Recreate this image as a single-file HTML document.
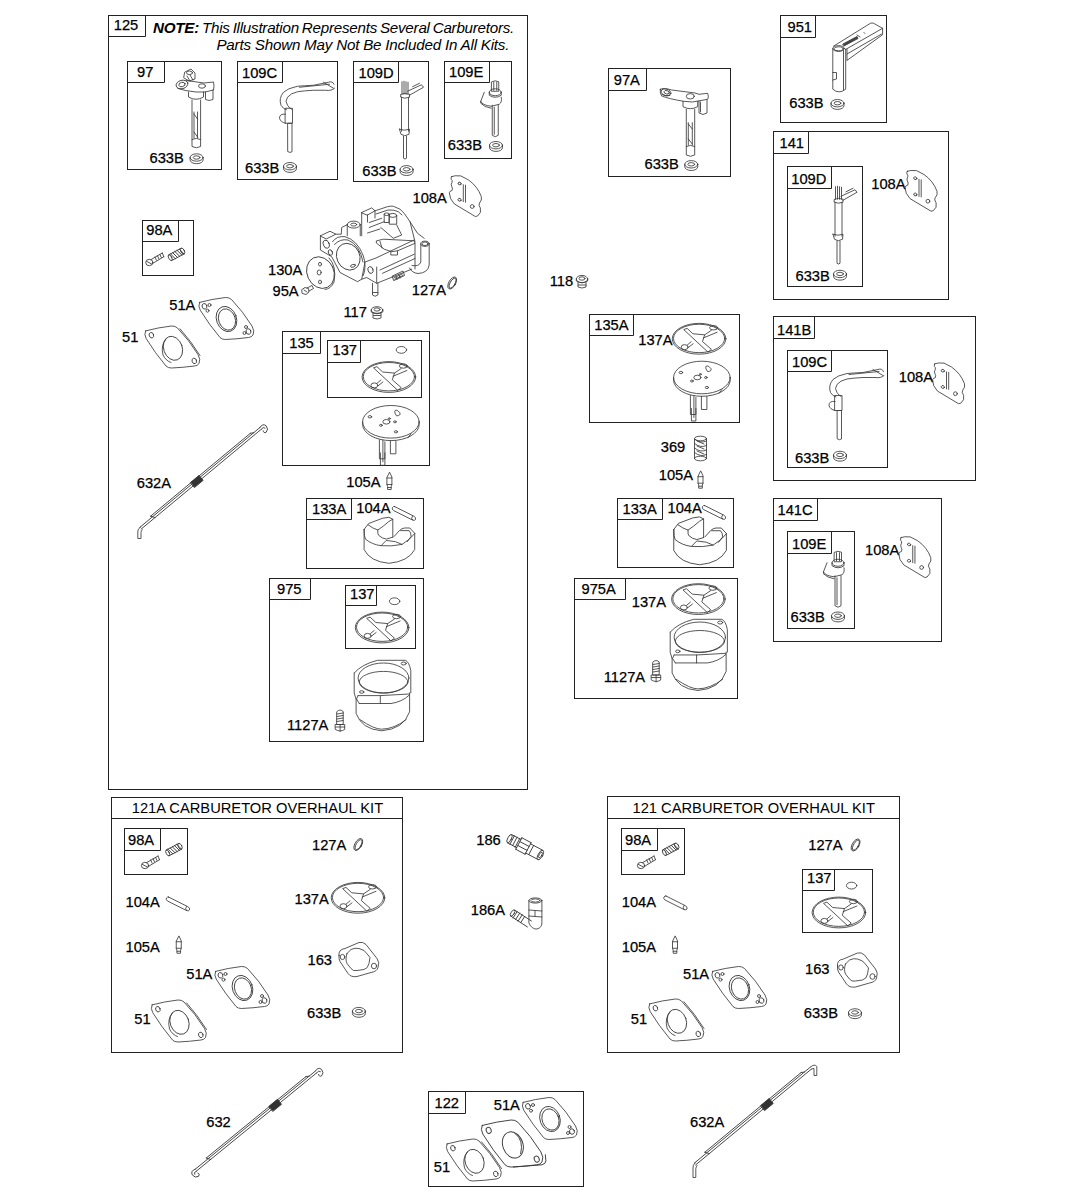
<!DOCTYPE html>
<html><head><meta charset="utf-8"><style>
html,body{margin:0;padding:0;background:#fff;}
svg{display:block;}
text{font-family:"Liberation Sans",sans-serif;fill:#000;stroke:#000;stroke-width:0.25px;}
</style></head><body>
<svg width="1073" height="1200" viewBox="0 0 1073 1200">
<rect x="108.50" y="15.50" width="419.00" height="774.00" fill="none" stroke="#222" stroke-width="1.0"/>
<path d="M145.50,15.50V36.50H108.50" fill="none" stroke="#222" stroke-width="1"/>
<text x="113.75" y="29.90" font-size="14.7" >125</text>
<rect x="127.50" y="61.50" width="94.00" height="108.00" fill="none" stroke="#222" stroke-width="1.0"/>
<path d="M164.50,61.50V82.50H127.50" fill="none" stroke="#222" stroke-width="1"/>
<text x="137.00" y="77.40" font-size="14.7" >97</text>
<rect x="237.50" y="61.50" width="100.00" height="118.00" fill="none" stroke="#222" stroke-width="1.0"/>
<path d="M282.50,61.50V82.50H237.50" fill="none" stroke="#222" stroke-width="1"/>
<text x="242.00" y="78.40" font-size="14.7" >109C</text>
<rect x="353.50" y="61.50" width="75.00" height="120.00" fill="none" stroke="#222" stroke-width="1.0"/>
<path d="M398.50,61.50V82.50H353.50" fill="none" stroke="#222" stroke-width="1"/>
<text x="358.50" y="78.40" font-size="14.7" >109D</text>
<rect x="444.50" y="61.50" width="67.00" height="97.00" fill="none" stroke="#222" stroke-width="1.0"/>
<path d="M489.50,61.50V82.50H444.50" fill="none" stroke="#222" stroke-width="1"/>
<text x="449.00" y="76.90" font-size="14.7" >109E</text>
<rect x="142.50" y="220.50" width="51.00" height="55.00" fill="none" stroke="#222" stroke-width="1.0"/>
<path d="M178.50,220.50V241.50H142.50" fill="none" stroke="#222" stroke-width="1"/>
<text x="146.25" y="235.40" font-size="14.7" >98A</text>
<rect x="282.50" y="331.50" width="147.00" height="134.00" fill="none" stroke="#222" stroke-width="1.0"/>
<path d="M320.50,331.50V353.50H282.50" fill="none" stroke="#222" stroke-width="1"/>
<text x="289.25" y="348.40" font-size="14.7" >135</text>
<rect x="327.50" y="340.50" width="94.00" height="57.00" fill="none" stroke="#222" stroke-width="1.0"/>
<path d="M360.50,340.50V362.50H327.50" fill="none" stroke="#222" stroke-width="1"/>
<text x="332.50" y="355.40" font-size="14.7" >137</text>
<rect x="306.50" y="498.50" width="117.00" height="70.00" fill="none" stroke="#222" stroke-width="1.0"/>
<path d="M351.50,498.50V519.50H306.50" fill="none" stroke="#222" stroke-width="1"/>
<text x="312.00" y="514.15" font-size="14.7" >133A</text>
<rect x="269.50" y="578.50" width="154.00" height="163.00" fill="none" stroke="#222" stroke-width="1.0"/>
<path d="M310.50,578.50V599.50H269.50" fill="none" stroke="#222" stroke-width="1"/>
<text x="277.00" y="594.15" font-size="14.7" >975</text>
<rect x="345.50" y="585.50" width="70.00" height="63.00" fill="none" stroke="#222" stroke-width="1.0"/>
<path d="M376.50,585.50V605.50H345.50" fill="none" stroke="#222" stroke-width="1"/>
<text x="350.00" y="599.15" font-size="14.7" >137</text>
<rect x="608.50" y="68.50" width="122.00" height="108.00" fill="none" stroke="#222" stroke-width="1.0"/>
<path d="M646.50,68.50V90.50H608.50" fill="none" stroke="#222" stroke-width="1"/>
<text x="613.75" y="84.90" font-size="14.7" >97A</text>
<rect x="780.50" y="15.50" width="106.00" height="107.00" fill="none" stroke="#222" stroke-width="1.0"/>
<path d="M815.50,15.50V37.50H780.50" fill="none" stroke="#222" stroke-width="1"/>
<text x="787.50" y="32.40" font-size="14.7" >951</text>
<rect x="773.50" y="131.50" width="175.00" height="168.00" fill="none" stroke="#222" stroke-width="1.0"/>
<path d="M808.50,131.50V153.50H773.50" fill="none" stroke="#222" stroke-width="1"/>
<text x="779.50" y="147.90" font-size="14.7" >141</text>
<rect x="787.50" y="166.50" width="75.00" height="120.00" fill="none" stroke="#222" stroke-width="1.0"/>
<path d="M831.50,166.50V188.50H787.50" fill="none" stroke="#222" stroke-width="1"/>
<text x="791.25" y="183.65" font-size="14.7" >109D</text>
<rect x="589.50" y="314.50" width="150.00" height="108.00" fill="none" stroke="#222" stroke-width="1.0"/>
<path d="M633.50,314.50V335.50H589.50" fill="none" stroke="#222" stroke-width="1"/>
<text x="594.25" y="330.40" font-size="14.7" >135A</text>
<rect x="617.50" y="498.50" width="116.00" height="69.00" fill="none" stroke="#222" stroke-width="1.0"/>
<path d="M662.50,498.50V519.50H617.50" fill="none" stroke="#222" stroke-width="1"/>
<text x="622.50" y="514.15" font-size="14.7" >133A</text>
<rect x="574.50" y="578.50" width="163.00" height="120.00" fill="none" stroke="#222" stroke-width="1.0"/>
<path d="M625.50,578.50V599.50H574.50" fill="none" stroke="#222" stroke-width="1"/>
<text x="581.50" y="594.15" font-size="14.7" >975A</text>
<rect x="773.50" y="316.50" width="202.00" height="164.00" fill="none" stroke="#222" stroke-width="1.0"/>
<path d="M814.50,316.50V338.50H773.50" fill="none" stroke="#222" stroke-width="1"/>
<text x="777.00" y="334.65" font-size="14.7" >141B</text>
<rect x="787.50" y="350.50" width="100.00" height="117.00" fill="none" stroke="#222" stroke-width="1.0"/>
<path d="M831.50,350.50V371.50H787.50" fill="none" stroke="#222" stroke-width="1"/>
<text x="792.00" y="367.40" font-size="14.7" >109C</text>
<rect x="773.50" y="498.50" width="168.00" height="143.00" fill="none" stroke="#222" stroke-width="1.0"/>
<path d="M817.50,498.50V520.50H773.50" fill="none" stroke="#222" stroke-width="1"/>
<text x="777.50" y="515.40" font-size="14.7" >141C</text>
<rect x="787.50" y="531.50" width="67.00" height="97.00" fill="none" stroke="#222" stroke-width="1.0"/>
<path d="M831.50,531.50V553.50H787.50" fill="none" stroke="#222" stroke-width="1"/>
<text x="792.00" y="548.65" font-size="14.7" >109E</text>
<rect x="124.50" y="828.50" width="63.00" height="46.00" fill="none" stroke="#222" stroke-width="1.0"/>
<path d="M160.50,828.50V850.50H124.50" fill="none" stroke="#222" stroke-width="1"/>
<text x="128.00" y="844.90" font-size="14.7" >98A</text>
<rect x="621.50" y="828.50" width="63.00" height="46.00" fill="none" stroke="#222" stroke-width="1.0"/>
<path d="M657.50,828.50V850.50H621.50" fill="none" stroke="#222" stroke-width="1"/>
<text x="625.00" y="844.90" font-size="14.7" >98A</text>
<rect x="802.50" y="869.50" width="70.00" height="63.00" fill="none" stroke="#222" stroke-width="1.0"/>
<path d="M834.50,869.50V890.50H802.50" fill="none" stroke="#222" stroke-width="1"/>
<text x="807.00" y="883.40" font-size="14.7" >137</text>
<rect x="428.50" y="1091.50" width="155.00" height="95.00" fill="none" stroke="#222" stroke-width="1.0"/>
<path d="M465.50,1091.50V1113.50H428.50" fill="none" stroke="#222" stroke-width="1"/>
<text x="434.50" y="1107.90" font-size="14.7" >122</text>
<rect x="111.50" y="797.50" width="291.00" height="255.00" fill="none" stroke="#222" stroke-width="1.0"/>
<line x1="111.50" y1="818.50" x2="402.50" y2="818.50" stroke="#222" stroke-width="1.0"/>
<text x="131.75" y="812.50" font-size="14.7" style="stroke-width:0">121A CARBURETOR OVERHAUL KIT</text>
<rect x="607.50" y="796.50" width="292.00" height="256.00" fill="none" stroke="#222" stroke-width="1.0"/>
<line x1="607.50" y1="818.50" x2="899.50" y2="818.50" stroke="#222" stroke-width="1.0"/>
<text x="632.50" y="812.50" font-size="14.7" style="stroke-width:0">121 CARBURETOR OVERHAUL KIT</text>
<text x="153" y="33" font-size="15.2" font-style="italic" letter-spacing="-0.25" word-spacing="-1" style="stroke-width:0"><tspan font-weight="bold">NOTE:</tspan> This Illustration Represents Several Carburetors.</text>
<text x="509.25" y="50.25" font-size="15.2" font-style="italic" text-anchor="end" letter-spacing="-0.22" style="stroke-width:0">Parts Shown May Not Be Included In All Kits.</text>
<text x="149.50" y="162.90" font-size="14.7" >633B</text>
<text x="245.00" y="172.90" font-size="14.7" >633B</text>
<text x="362.25" y="176.15" font-size="14.7" >633B</text>
<text x="447.75" y="150.40" font-size="14.7" >633B</text>
<text x="412.50" y="202.90" font-size="14.7" >108A</text>
<text x="268.00" y="275.40" font-size="14.7" >130A</text>
<text x="272.50" y="296.15" font-size="14.7" >95A</text>
<text x="411.75" y="294.90" font-size="14.7" >127A</text>
<text x="343.50" y="317.40" font-size="14.7" >117</text>
<text x="169.25" y="309.65" font-size="14.7" >51A</text>
<text x="122.00" y="342.15" font-size="14.7" >51</text>
<text x="136.75" y="487.90" font-size="14.7" >632A</text>
<text x="346.25" y="487.40" font-size="14.7" >105A</text>
<text x="356.25" y="512.90" font-size="14.7" >104A</text>
<text x="287.00" y="729.90" font-size="14.7" >1127A</text>
<text x="549.75" y="286.15" font-size="14.7" >118</text>
<text x="644.50" y="169.15" font-size="14.7" >633B</text>
<text x="789.25" y="108.40" font-size="14.7" >633B</text>
<text x="871.25" y="189.15" font-size="14.7" >108A</text>
<text x="795.50" y="280.90" font-size="14.7" >633B</text>
<text x="638.25" y="344.90" font-size="14.7" >137A</text>
<text x="660.75" y="451.65" font-size="14.7" >369</text>
<text x="658.75" y="480.40" font-size="14.7" >105A</text>
<text x="667.50" y="512.90" font-size="14.7" >104A</text>
<text x="631.75" y="607.15" font-size="14.7" >137A</text>
<text x="603.75" y="681.65" font-size="14.7" >1127A</text>
<text x="898.75" y="381.65" font-size="14.7" >108A</text>
<text x="795.00" y="462.90" font-size="14.7" >633B</text>
<text x="865.00" y="554.90" font-size="14.7" >108A</text>
<text x="790.50" y="621.65" font-size="14.7" >633B</text>
<text x="312.00" y="849.65" font-size="14.7" >127A</text>
<text x="125.50" y="906.65" font-size="14.7" >104A</text>
<text x="294.50" y="904.15" font-size="14.7" >137A</text>
<text x="125.50" y="952.15" font-size="14.7" >105A</text>
<text x="307.50" y="964.90" font-size="14.7" >163</text>
<text x="186.25" y="979.15" font-size="14.7" >51A</text>
<text x="134.25" y="1024.15" font-size="14.7" >51</text>
<text x="307.00" y="1017.90" font-size="14.7" >633B</text>
<text x="476.25" y="844.90" font-size="14.7" >186</text>
<text x="470.75" y="914.90" font-size="14.7" >186A</text>
<text x="808.25" y="849.65" font-size="14.7" >127A</text>
<text x="621.75" y="906.65" font-size="14.7" >104A</text>
<text x="621.75" y="952.15" font-size="14.7" >105A</text>
<text x="683.00" y="979.15" font-size="14.7" >51A</text>
<text x="630.75" y="1024.15" font-size="14.7" >51</text>
<text x="805.00" y="974.15" font-size="14.7" >163</text>
<text x="803.75" y="1018.40" font-size="14.7" >633B</text>
<text x="206.25" y="1126.65" font-size="14.7" >632</text>
<text x="493.75" y="1109.90" font-size="14.7" >51A</text>
<text x="433.75" y="1171.65" font-size="14.7" >51</text>
<text x="690.00" y="1126.65" font-size="14.7" >632A</text>
<g fill="none" stroke="#3a3a3a" stroke-width="0.85" stroke-linejoin="round" stroke-linecap="round">
<g transform="translate(196.60,158.80)" ><ellipse cx="0" cy="-1.3" rx="6.5" ry="3.7"/><path d="M-6.5,-1.3V1.2A6.5,3.7 0 0 0 6.5,1.2V-1.3"/><ellipse cx="0" cy="-1.3" rx="3.4" ry="1.7"/></g>
<g transform="translate(290.00,167.50)" ><ellipse cx="0" cy="-1.3" rx="6.5" ry="3.7"/><path d="M-6.5,-1.3V1.2A6.5,3.7 0 0 0 6.5,1.2V-1.3"/><ellipse cx="0" cy="-1.3" rx="3.4" ry="1.7"/></g>
<g transform="translate(406.60,170.60)" ><ellipse cx="0" cy="-1.3" rx="6.5" ry="3.7"/><path d="M-6.5,-1.3V1.2A6.5,3.7 0 0 0 6.5,1.2V-1.3"/><ellipse cx="0" cy="-1.3" rx="3.4" ry="1.7"/></g>
<g transform="translate(496.00,146.50)" ><ellipse cx="0" cy="-1.3" rx="6.5" ry="3.7"/><path d="M-6.5,-1.3V1.2A6.5,3.7 0 0 0 6.5,1.2V-1.3"/><ellipse cx="0" cy="-1.3" rx="3.4" ry="1.7"/></g>
<g transform="translate(691.25,165.60)" ><ellipse cx="0" cy="-1.3" rx="6.5" ry="3.7"/><path d="M-6.5,-1.3V1.2A6.5,3.7 0 0 0 6.5,1.2V-1.3"/><ellipse cx="0" cy="-1.3" rx="3.4" ry="1.7"/></g>
<g transform="translate(837.50,104.50)" ><ellipse cx="0" cy="-1.3" rx="6.5" ry="3.7"/><path d="M-6.5,-1.3V1.2A6.5,3.7 0 0 0 6.5,1.2V-1.3"/><ellipse cx="0" cy="-1.3" rx="3.4" ry="1.7"/></g>
<g transform="translate(840.00,275.25)" ><ellipse cx="0" cy="-1.3" rx="6.5" ry="3.7"/><path d="M-6.5,-1.3V1.2A6.5,3.7 0 0 0 6.5,1.2V-1.3"/><ellipse cx="0" cy="-1.3" rx="3.4" ry="1.7"/></g>
<g transform="translate(840.00,456.25)" ><ellipse cx="0" cy="-1.3" rx="6.5" ry="3.7"/><path d="M-6.5,-1.3V1.2A6.5,3.7 0 0 0 6.5,1.2V-1.3"/><ellipse cx="0" cy="-1.3" rx="3.4" ry="1.7"/></g>
<g transform="translate(838.00,617.00)" ><ellipse cx="0" cy="-1.3" rx="6.5" ry="3.7"/><path d="M-6.5,-1.3V1.2A6.5,3.7 0 0 0 6.5,1.2V-1.3"/><ellipse cx="0" cy="-1.3" rx="3.4" ry="1.7"/></g>
<g transform="translate(358.90,1012.40)" ><ellipse cx="0" cy="-1.3" rx="6.5" ry="3.7"/><path d="M-6.5,-1.3V1.2A6.5,3.7 0 0 0 6.5,1.2V-1.3"/><ellipse cx="0" cy="-1.3" rx="3.4" ry="1.7"/></g>
<g transform="translate(855.00,1013.75)" ><ellipse cx="0" cy="-1.3" rx="6.5" ry="3.7"/><path d="M-6.5,-1.3V1.2A6.5,3.7 0 0 0 6.5,1.2V-1.3"/><ellipse cx="0" cy="-1.3" rx="3.4" ry="1.7"/></g>
<g transform="translate(145.00,326.00)" ><path d="M0.6,4.9Q13,1.5 26.4,0Q30,-0.3 32.5,2Q44,14 53,28.5Q56,33.5 54,37.5Q52.5,39.8 49.5,40Q38,41.5 26.4,42Q23,42 21,40Q10,27 1.2,12.6Q-1.2,8.5 0.6,4.9Z"/><path d="M35,2.8Q46,15 55,29.5"/><ellipse cx="28" cy="22.3" rx="9.3" ry="12.3" transform="rotate(-20 28 22.3)"/><path d="M21,13Q15.5,19 18,29Q21,35 26,36.5"/><ellipse cx="6.4" cy="9.2" rx="2.2" ry="2.8" transform="rotate(-20 6.4 9.2)"/><ellipse cx="49.3" cy="34.9" rx="2.2" ry="2.8" transform="rotate(-20 49.3 34.9)"/></g>
<g transform="translate(151.50,1000.00)" ><path d="M0.6,4.9Q13,1.5 26.4,0Q30,-0.3 32.5,2Q44,14 53,28.5Q56,33.5 54,37.5Q52.5,39.8 49.5,40Q38,41.5 26.4,42Q23,42 21,40Q10,27 1.2,12.6Q-1.2,8.5 0.6,4.9Z"/><path d="M35,2.8Q46,15 55,29.5"/><ellipse cx="28" cy="22.3" rx="9.3" ry="12.3" transform="rotate(-20 28 22.3)"/><path d="M21,13Q15.5,19 18,29Q21,35 26,36.5"/><ellipse cx="6.4" cy="9.2" rx="2.2" ry="2.8" transform="rotate(-20 6.4 9.2)"/><ellipse cx="49.3" cy="34.9" rx="2.2" ry="2.8" transform="rotate(-20 49.3 34.9)"/></g>
<g transform="translate(649.00,999.00)" ><path d="M0.6,4.9Q13,1.5 26.4,0Q30,-0.3 32.5,2Q44,14 53,28.5Q56,33.5 54,37.5Q52.5,39.8 49.5,40Q38,41.5 26.4,42Q23,42 21,40Q10,27 1.2,12.6Q-1.2,8.5 0.6,4.9Z"/><path d="M35,2.8Q46,15 55,29.5"/><ellipse cx="28" cy="22.3" rx="9.3" ry="12.3" transform="rotate(-20 28 22.3)"/><path d="M21,13Q15.5,19 18,29Q21,35 26,36.5"/><ellipse cx="6.4" cy="9.2" rx="2.2" ry="2.8" transform="rotate(-20 6.4 9.2)"/><ellipse cx="49.3" cy="34.9" rx="2.2" ry="2.8" transform="rotate(-20 49.3 34.9)"/></g>
<g transform="translate(446.50,1139.00)" ><path d="M0.6,4.9Q13,1.5 26.4,0Q30,-0.3 32.5,2Q44,14 53,28.5Q56,33.5 54,37.5Q52.5,39.8 49.5,40Q38,41.5 26.4,42Q23,42 21,40Q10,27 1.2,12.6Q-1.2,8.5 0.6,4.9Z"/><path d="M35,2.8Q46,15 55,29.5"/><ellipse cx="28" cy="22.3" rx="9.3" ry="12.3" transform="rotate(-20 28 22.3)"/><path d="M21,13Q15.5,19 18,29Q21,35 26,36.5"/><ellipse cx="6.4" cy="9.2" rx="2.2" ry="2.8" transform="rotate(-20 6.4 9.2)"/><ellipse cx="49.3" cy="34.9" rx="2.2" ry="2.8" transform="rotate(-20 49.3 34.9)"/></g>
<g transform="translate(199.00,297.50)" ><path d="M0.6,4.9Q13,1.5 26.4,0Q30,-0.3 32.5,2Q44,14 53,28.5Q56,33.5 54,37.5Q52.5,39.8 49.5,40Q38,41.5 26.4,42Q23,42 21,40Q10,27 1.2,12.6Q-1.2,8.5 0.6,4.9Z"/><ellipse cx="27.5" cy="21.5" rx="10" ry="12.9" transform="rotate(-20 27.5 21.5)"/><ellipse cx="28" cy="22" rx="8.3" ry="10.9" transform="rotate(-20 28 22)"/><ellipse cx="5.5" cy="8.8" rx="2.4" ry="2.8" transform="rotate(-20 5.5 8.8)"/><ellipse cx="10.5" cy="7.5" rx="1.5" ry="1.5"/><ellipse cx="8.5" cy="13.2" rx="1.5" ry="1.5"/><ellipse cx="49.5" cy="34" rx="2.4" ry="2.8" transform="rotate(-20 49.5 34)"/><ellipse cx="45.5" cy="35.5" rx="1.5" ry="1.5"/><ellipse cx="47" cy="29.5" rx="1.5" ry="1.5"/></g>
<g transform="translate(215.00,966.50)" ><path d="M0.6,4.9Q13,1.5 26.4,0Q30,-0.3 32.5,2Q44,14 53,28.5Q56,33.5 54,37.5Q52.5,39.8 49.5,40Q38,41.5 26.4,42Q23,42 21,40Q10,27 1.2,12.6Q-1.2,8.5 0.6,4.9Z"/><ellipse cx="27.5" cy="21.5" rx="10" ry="12.9" transform="rotate(-20 27.5 21.5)"/><ellipse cx="28" cy="22" rx="8.3" ry="10.9" transform="rotate(-20 28 22)"/><ellipse cx="5.5" cy="8.8" rx="2.4" ry="2.8" transform="rotate(-20 5.5 8.8)"/><ellipse cx="10.5" cy="7.5" rx="1.5" ry="1.5"/><ellipse cx="8.5" cy="13.2" rx="1.5" ry="1.5"/><ellipse cx="49.5" cy="34" rx="2.4" ry="2.8" transform="rotate(-20 49.5 34)"/><ellipse cx="45.5" cy="35.5" rx="1.5" ry="1.5"/><ellipse cx="47" cy="29.5" rx="1.5" ry="1.5"/></g>
<g transform="translate(712.00,966.50)" ><path d="M0.6,4.9Q13,1.5 26.4,0Q30,-0.3 32.5,2Q44,14 53,28.5Q56,33.5 54,37.5Q52.5,39.8 49.5,40Q38,41.5 26.4,42Q23,42 21,40Q10,27 1.2,12.6Q-1.2,8.5 0.6,4.9Z"/><ellipse cx="27.5" cy="21.5" rx="10" ry="12.9" transform="rotate(-20 27.5 21.5)"/><ellipse cx="28" cy="22" rx="8.3" ry="10.9" transform="rotate(-20 28 22)"/><ellipse cx="5.5" cy="8.8" rx="2.4" ry="2.8" transform="rotate(-20 5.5 8.8)"/><ellipse cx="10.5" cy="7.5" rx="1.5" ry="1.5"/><ellipse cx="8.5" cy="13.2" rx="1.5" ry="1.5"/><ellipse cx="49.5" cy="34" rx="2.4" ry="2.8" transform="rotate(-20 49.5 34)"/><ellipse cx="45.5" cy="35.5" rx="1.5" ry="1.5"/><ellipse cx="47" cy="29.5" rx="1.5" ry="1.5"/></g>
<g transform="translate(522.50,1097.50)" ><path d="M0.6,4.9Q13,1.5 26.4,0Q30,-0.3 32.5,2Q44,14 53,28.5Q56,33.5 54,37.5Q52.5,39.8 49.5,40Q38,41.5 26.4,42Q23,42 21,40Q10,27 1.2,12.6Q-1.2,8.5 0.6,4.9Z"/><ellipse cx="27.5" cy="21.5" rx="10" ry="12.9" transform="rotate(-20 27.5 21.5)"/><ellipse cx="28" cy="22" rx="8.3" ry="10.9" transform="rotate(-20 28 22)"/><ellipse cx="5.5" cy="8.8" rx="2.4" ry="2.8" transform="rotate(-20 5.5 8.8)"/><ellipse cx="10.5" cy="7.5" rx="1.5" ry="1.5"/><ellipse cx="8.5" cy="13.2" rx="1.5" ry="1.5"/><ellipse cx="49.5" cy="34" rx="2.4" ry="2.8" transform="rotate(-20 49.5 34)"/><ellipse cx="45.5" cy="35.5" rx="1.5" ry="1.5"/><ellipse cx="47" cy="29.5" rx="1.5" ry="1.5"/></g>
<g transform="translate(481.50,1120.00) scale(1.12)" ><path d="M0.6,4.9Q13,1.5 26.4,0Q30,-0.3 32.5,2Q44,14 53,28.5Q56,33.5 54,37.5Q52.5,39.8 49.5,40Q38,41.5 26.4,42Q23,42 21,40Q10,27 1.2,12.6Q-1.2,8.5 0.6,4.9Z"/><path d="M57,31L57.5,36.5Q57.5,39 54,40L28.5,42"/><ellipse cx="28" cy="22.3" rx="9" ry="12" transform="rotate(-20 28 22.3)"/><path d="M30,12Q38,18 35,30"/><ellipse cx="6.4" cy="9.2" rx="2.2" ry="2.8" transform="rotate(-20 6.4 9.2)"/><ellipse cx="49.3" cy="34.9" rx="2.2" ry="2.8" transform="rotate(-20 49.3 34.9)"/></g>
<g transform="translate(388.90,377.00)" ><ellipse cx="0" cy="0" rx="26.8" ry="15.4"/><ellipse cx="0" cy="-0.3" rx="25.6" ry="14.2"/><path d="M-15.1,-8.9L8.9,13.4L12.3,10.6L3.4,2.8L5.6,-3.9L-6.2,-5L-11.7,-10.1Z"/><path d="M5.6,-3.9L12.3,-8.5M4.2,-0.8L18,-6.5"/><ellipse cx="14.5" cy="-11" rx="4" ry="2.2"/><ellipse cx="-14.5" cy="8.4" rx="3.5" ry="2.5"/><path d="M-11.7,6.2L-8,3M-10.6,8.6L-6,5"/></g>
<g transform="translate(382.10,627.50)" ><ellipse cx="0" cy="0" rx="26.8" ry="15.4"/><ellipse cx="0" cy="-0.3" rx="25.6" ry="14.2"/><path d="M-15.1,-8.9L8.9,13.4L12.3,10.6L3.4,2.8L5.6,-3.9L-6.2,-5L-11.7,-10.1Z"/><path d="M5.6,-3.9L12.3,-8.5M4.2,-0.8L18,-6.5"/><ellipse cx="14.5" cy="-11" rx="4" ry="2.2"/><ellipse cx="-14.5" cy="8.4" rx="3.5" ry="2.5"/><path d="M-11.7,6.2L-8,3M-10.6,8.6L-6,5"/></g>
<g transform="translate(699.10,338.75)" ><ellipse cx="0" cy="0" rx="26.8" ry="15.4"/><ellipse cx="0" cy="-0.3" rx="25.6" ry="14.2"/><path d="M-15.1,-8.9L8.9,13.4L12.3,10.6L3.4,2.8L5.6,-3.9L-6.2,-5L-11.7,-10.1Z"/><path d="M5.6,-3.9L12.3,-8.5M4.2,-0.8L18,-6.5"/><ellipse cx="14.5" cy="-11" rx="4" ry="2.2"/><ellipse cx="-14.5" cy="8.4" rx="3.5" ry="2.5"/><path d="M-11.7,6.2L-8,3M-10.6,8.6L-6,5"/></g>
<g transform="translate(698.40,599.10)" ><ellipse cx="0" cy="0" rx="26.8" ry="15.4"/><ellipse cx="0" cy="-0.3" rx="25.6" ry="14.2"/><path d="M-15.1,-8.9L8.9,13.4L12.3,10.6L3.4,2.8L5.6,-3.9L-6.2,-5L-11.7,-10.1Z"/><path d="M5.6,-3.9L12.3,-8.5M4.2,-0.8L18,-6.5"/><ellipse cx="14.5" cy="-11" rx="4" ry="2.2"/><ellipse cx="-14.5" cy="8.4" rx="3.5" ry="2.5"/><path d="M-11.7,6.2L-8,3M-10.6,8.6L-6,5"/></g>
<g transform="translate(358.00,897.80)" ><ellipse cx="0" cy="0" rx="26.8" ry="15.4"/><ellipse cx="0" cy="-0.3" rx="25.6" ry="14.2"/><path d="M-15.1,-8.9L8.9,13.4L12.3,10.6L3.4,2.8L5.6,-3.9L-6.2,-5L-11.7,-10.1Z"/><path d="M5.6,-3.9L12.3,-8.5M4.2,-0.8L18,-6.5"/><ellipse cx="14.5" cy="-11" rx="4" ry="2.2"/><ellipse cx="-14.5" cy="8.4" rx="3.5" ry="2.5"/><path d="M-11.7,6.2L-8,3M-10.6,8.6L-6,5"/></g>
<g transform="translate(838.90,912.50)" ><ellipse cx="0" cy="0" rx="26.8" ry="15.4"/><ellipse cx="0" cy="-0.3" rx="25.6" ry="14.2"/><path d="M-15.1,-8.9L8.9,13.4L12.3,10.6L3.4,2.8L5.6,-3.9L-6.2,-5L-11.7,-10.1Z"/><path d="M5.6,-3.9L12.3,-8.5M4.2,-0.8L18,-6.5"/><ellipse cx="14.5" cy="-11" rx="4" ry="2.2"/><ellipse cx="-14.5" cy="8.4" rx="3.5" ry="2.5"/><path d="M-11.7,6.2L-8,3M-10.6,8.6L-6,5"/></g>
<g transform="translate(401.40,349.90)" ><ellipse cx="0" cy="0" rx="5.2" ry="3.4"/></g>
<g transform="translate(394.60,601.25)" ><ellipse cx="0" cy="0" rx="5.2" ry="3.4"/></g>
<g transform="translate(851.60,885.60)" ><ellipse cx="0" cy="0" rx="5.2" ry="3.4"/></g>
<g transform="translate(390.90,421.80)" ><ellipse cx="0" cy="0" rx="28.3" ry="16.3"/><path d="M-28.3,0V2.5A28.3,16.3 0 0 0 28.3,2.5V0"/><ellipse cx="-21" cy="-5" rx="1.8" ry="1.2"/><ellipse cx="-4.5" cy="0" rx="3.6" ry="2.3"/><ellipse cx="-10" cy="3.5" rx="1.4" ry="1"/><ellipse cx="4" cy="0" rx="1.3" ry="1"/><ellipse cx="5" cy="10" rx="1.6" ry="1.1"/><path d="M4,-9Q3,-13 7,-11L9,-9Q10,-6 6,-6Z"/><ellipse cx="-1.6" cy="-3.2" rx="1" ry="0.8"/><path d="M-11.5,18V37H-6V20M-6,20M-0.5,19V32H5V19M-10.5,31V43.5H-6V31M17,16L20,12"/><path d="M-8,18.5V40"/></g>
<g transform="translate(701.90,377.50)" ><ellipse cx="0" cy="0" rx="28.3" ry="16.3"/><path d="M-28.3,0V2.5A28.3,16.3 0 0 0 28.3,2.5V0"/><ellipse cx="-21" cy="-5" rx="1.8" ry="1.2"/><ellipse cx="-4.5" cy="0" rx="3.6" ry="2.3"/><ellipse cx="-10" cy="3.5" rx="1.4" ry="1"/><ellipse cx="4" cy="0" rx="1.3" ry="1"/><ellipse cx="5" cy="10" rx="1.6" ry="1.1"/><path d="M4,-9Q3,-13 7,-11L9,-9Q10,-6 6,-6Z"/><ellipse cx="-1.6" cy="-3.2" rx="1" ry="0.8"/><path d="M-11.5,18V37H-6V20M-6,20M-0.5,19V32H5V19M-10.5,31V43.5H-6V31M17,16L20,12"/><path d="M-8,18.5V40"/></g>
<g transform="translate(364.10,517.60)" ><path d="M0,11.8L4.6,5.9L18.3,0.7L24.8,-0.3L28.7,1.6V19.6"/><path d="M3.9,7.2Q9,11 13.7,12.4Q19,9 24.8,3.9L28.7,1.6"/><path d="M13.7,12.4Q13.5,17 14.4,17.6Q18,21 22.2,21.5L28.7,19.6"/><path d="M0,11.8Q0,19 1.3,21.5Q8,27 17,28.1Q28,29 37.9,26.8Q46,22 50.3,16.3"/><path d="M17,28.1L22.2,22.8L31.3,24.1L37.9,26.8"/><path d="M30,18.9L35.3,13Q38,10.5 40.5,10.4H45.7L50.6,15.7"/><path d="M36.6,13H45Q47,15 47,18.9L43.1,24.1"/><path d="M0,11.8V32Q6,44 24.8,45.7Q44,44 50.6,32V15.7"/></g>
<g transform="translate(673.75,517.20) scale(1.04)" ><path d="M0,11.8L4.6,5.9L18.3,0.7L24.8,-0.3L28.7,1.6V19.6"/><path d="M3.9,7.2Q9,11 13.7,12.4Q19,9 24.8,3.9L28.7,1.6"/><path d="M13.7,12.4Q13.5,17 14.4,17.6Q18,21 22.2,21.5L28.7,19.6"/><path d="M0,11.8Q0,19 1.3,21.5Q8,27 17,28.1Q28,29 37.9,26.8Q46,22 50.3,16.3"/><path d="M17,28.1L22.2,22.8L31.3,24.1L37.9,26.8"/><path d="M30,18.9L35.3,13Q38,10.5 40.5,10.4H45.7L50.6,15.7"/><path d="M36.6,13H45Q47,15 47,18.9L43.1,24.1"/><path d="M0,11.8V32Q6,44 24.8,45.7Q44,44 50.6,32V15.7"/></g>
<g transform="translate(394.50,506.50)" ><path d="M0,0L19,9.5Q22,11 21,13Q20,14.5 18,13.5L-1,4Q-3,2.5 -2,1Q-1,-0.5 0,0Z"/><path d="M18,9.5Q16,12 18,13.5"/></g>
<g transform="translate(704.50,505.50)" ><path d="M0,0L19,9.5Q22,11 21,13Q20,14.5 18,13.5L-1,4Q-3,2.5 -2,1Q-1,-0.5 0,0Z"/><path d="M18,9.5Q16,12 18,13.5"/></g>
<g transform="translate(168.50,897.00)" ><path d="M0,0L19,9.5Q22,11 21,13Q20,14.5 18,13.5L-1,4Q-3,2.5 -2,1Q-1,-0.5 0,0Z"/><path d="M18,9.5Q16,12 18,13.5"/></g>
<g transform="translate(666.00,896.00)" ><path d="M0,0L19,9.5Q22,11 21,13Q20,14.5 18,13.5L-1,4Q-3,2.5 -2,1Q-1,-0.5 0,0Z"/><path d="M18,9.5Q16,12 18,13.5"/></g>
<g transform="translate(389.40,472.50)" ><path d="M0,0L-2.5,5V12L-1.8,14V17H1.8V14L2.5,12V5Z"/><path d="M-2.5,5.5H2.5M-2.5,12H2.5M-1.8,15H1.8"/></g>
<g transform="translate(700.50,471.20)" ><path d="M0,0L-2.5,5V12L-1.8,14V17H1.8V14L2.5,12V5Z"/><path d="M-2.5,5.5H2.5M-2.5,12H2.5M-1.8,15H1.8"/></g>
<g transform="translate(178.75,936.25)" ><path d="M0,0L-2.5,5V12L-1.8,14V17H1.8V14L2.5,12V5Z"/><path d="M-2.5,5.5H2.5M-2.5,12H2.5M-1.8,15H1.8"/></g>
<g transform="translate(675.00,936.25)" ><path d="M0,0L-2.5,5V12L-1.8,14V17H1.8V14L2.5,12V5Z"/><path d="M-2.5,5.5H2.5M-2.5,12H2.5M-1.8,15H1.8"/></g>
<g transform="translate(452.25,283.00)" ><ellipse cx="0" cy="0" rx="3.4" ry="6.6" transform="rotate(30 0 0)"/><ellipse cx="0.3" cy="0.2" rx="2.4" ry="5.6" transform="rotate(30 0.3 0.2)"/></g>
<g transform="translate(358.30,844.50)" ><ellipse cx="0" cy="0" rx="3.4" ry="6.6" transform="rotate(30 0 0)"/><ellipse cx="0.3" cy="0.2" rx="2.4" ry="5.6" transform="rotate(30 0.3 0.2)"/></g>
<g transform="translate(855.60,845.00)" ><ellipse cx="0" cy="0" rx="3.4" ry="6.6" transform="rotate(30 0 0)"/><ellipse cx="0.3" cy="0.2" rx="2.4" ry="5.6" transform="rotate(30 0.3 0.2)"/></g>
<g transform="translate(337.00,941.50)" ><path d="M2,14Q1,8 8,7L22,1Q26,0 29,3L40,17Q43,21 41,26Q40,30 34,31L20,35Q14,36 11,32L3,20Q1.5,17 2,14Z"/><path d="M10,12L14,8Q18,6 22,7L27,9Q30,12 33,16L32,22Q31,27 27,28L20,29Q16,30 14,27L10,22Q8,18 10,12Z"/><ellipse cx="5.5" cy="15.5" rx="2.3" ry="2.6"/><ellipse cx="37" cy="24.5" rx="2.6" ry="2.8"/></g>
<g transform="translate(835.50,952.00)" ><path d="M2,14Q1,8 8,7L22,1Q26,0 29,3L40,17Q43,21 41,26Q40,30 34,31L20,35Q14,36 11,32L3,20Q1.5,17 2,14Z"/><path d="M10,12L14,8Q18,6 22,7L27,9Q30,12 33,16L32,22Q31,27 27,28L20,29Q16,30 14,27L10,22Q8,18 10,12Z"/><ellipse cx="5.5" cy="15.5" rx="2.3" ry="2.6"/><ellipse cx="37" cy="24.5" rx="2.6" ry="2.8"/></g>
<g transform="translate(449.30,177.20)" ><path d="M2.3,-0.6Q5,-2 11.5,-1.3L19,2.6Q28.3,9.1 32,19.4Q33,23 30.2,25.8Q28.8,27.7 31.1,30.9Q32.5,35.6 28.3,38.8L26,39.3L5,26.7Q0,21.6 0,15.5Q0.5,13.7 2.8,13.2Q3.7,10.9 2.3,9Q1.4,7.2 2.8,4.9Q3.3,3 1.9,2.1Q1.4,0.7 2.3,-0.6Z"/><ellipse cx="10.3" cy="6.3" rx="1.6" ry="1.3" transform="rotate(20 10.3 6.3)"/><ellipse cx="10.3" cy="22.6" rx="1.6" ry="1.4" transform="rotate(20 10.3 22.6)"/><ellipse cx="22.9" cy="29.3" rx="1.9" ry="1.9"/><path d="M14,7.5V24.5M16.2,8V25"/></g>
<g transform="translate(905.00,171.90)" ><path d="M2.3,-0.6Q5,-2 11.5,-1.3L19,2.6Q28.3,9.1 32,19.4Q33,23 30.2,25.8Q28.8,27.7 31.1,30.9Q32.5,35.6 28.3,38.8L26,39.3L5,26.7Q0,21.6 0,15.5Q0.5,13.7 2.8,13.2Q3.7,10.9 2.3,9Q1.4,7.2 2.8,4.9Q3.3,3 1.9,2.1Q1.4,0.7 2.3,-0.6Z"/><ellipse cx="10.3" cy="6.3" rx="1.6" ry="1.3" transform="rotate(20 10.3 6.3)"/><ellipse cx="10.3" cy="22.6" rx="1.6" ry="1.4" transform="rotate(20 10.3 22.6)"/><ellipse cx="22.9" cy="29.3" rx="1.9" ry="1.9"/><path d="M14,7.5V24.5M16.2,8V25"/></g>
<g transform="translate(932.50,364.40)" ><path d="M2.3,-0.6Q5,-2 11.5,-1.3L19,2.6Q28.3,9.1 32,19.4Q33,23 30.2,25.8Q28.8,27.7 31.1,30.9Q32.5,35.6 28.3,38.8L26,39.3L5,26.7Q0,21.6 0,15.5Q0.5,13.7 2.8,13.2Q3.7,10.9 2.3,9Q1.4,7.2 2.8,4.9Q3.3,3 1.9,2.1Q1.4,0.7 2.3,-0.6Z"/><ellipse cx="10.3" cy="6.3" rx="1.6" ry="1.3" transform="rotate(20 10.3 6.3)"/><ellipse cx="10.3" cy="22.6" rx="1.6" ry="1.4" transform="rotate(20 10.3 22.6)"/><ellipse cx="22.9" cy="29.3" rx="1.9" ry="1.9"/><path d="M14,7.5V24.5M16.2,8V25"/></g>
<g transform="translate(898.75,538.20)" ><path d="M2.3,-0.6Q5,-2 11.5,-1.3L19,2.6Q28.3,9.1 32,19.4Q33,23 30.2,25.8Q28.8,27.7 31.1,30.9Q32.5,35.6 28.3,38.8L26,39.3L5,26.7Q0,21.6 0,15.5Q0.5,13.7 2.8,13.2Q3.7,10.9 2.3,9Q1.4,7.2 2.8,4.9Q3.3,3 1.9,2.1Q1.4,0.7 2.3,-0.6Z"/><ellipse cx="10.3" cy="6.3" rx="1.6" ry="1.3" transform="rotate(20 10.3 6.3)"/><ellipse cx="10.3" cy="22.6" rx="1.6" ry="1.4" transform="rotate(20 10.3 22.6)"/><ellipse cx="22.9" cy="29.3" rx="1.9" ry="1.9"/><path d="M14,7.5V24.5M16.2,8V25"/></g>
<g transform="translate(237.50,61.25)" ><path d="M96.5,23Q95,19.5 91,21L76,24Q66,24.5 60,25Q50,27 46,31Q41,37 43.5,44Q46,48 49,48.5"/><path d="M97,27Q94,30 88,29L76,29Q66,29.5 60,30.5Q53,32 50,36Q47,40 50,44Q52,47 54,48"/><path d="M48,47H55V62H48Z"/><path d="M48,53Q42,52 42,57Q43,61 48,62"/><path d="M50.5,62H54.5V90.5Q52.5,92 50.5,90.5Z"/><path d="M62,26L92,23M86,21L96,27"/></g>
<g transform="translate(787.00,348.50)" ><path d="M96.5,23Q95,19.5 91,21L76,24Q66,24.5 60,25Q50,27 46,31Q41,37 43.5,44Q46,48 49,48.5"/><path d="M97,27Q94,30 88,29L76,29Q66,29.5 60,30.5Q53,32 50,36Q47,40 50,44Q52,47 54,48"/><path d="M48,47H55V62H48Z"/><path d="M48,53Q42,52 42,57Q43,61 48,62"/><path d="M50.5,62H54.5V90.5Q52.5,92 50.5,90.5Z"/><path d="M62,26L92,23M86,21L96,27"/></g>
<g transform="translate(353.50,61.25)" ><path d="M48.5,20.5V33M50.5,20V33M52.5,20.5V33M54.5,21V33"/><path d="M54,30L68,23.5L70,26L56,34"/><path d="M47.5,33Q51,31 56,33V36Q51,38 47.5,36Z"/><path d="M48,36V70M55,36V70"/><path d="M46,68L47.5,73Q51,76 55.5,73L56,68Q51,70 46,68Z"/><path d="M50,75V97Q51.5,98.5 53,97V75"/><path d="M59,25.5L66,22"/></g>
<g transform="translate(787.00,166.25)" ><path d="M48.5,20.5V33M50.5,20V33M52.5,20.5V33M54.5,21V33"/><path d="M54,30L68,23.5L70,26L56,34"/><path d="M47.5,33Q51,31 56,33V36Q51,38 47.5,36Z"/><path d="M48,36V70M55,36V70"/><path d="M46,68L47.5,73Q51,76 55.5,73L56,68Q51,70 46,68Z"/><path d="M50,75V97Q51.5,98.5 53,97V75"/><path d="M59,25.5L66,22"/></g>
<g transform="translate(444.25,61.25)" ><path d="M47.5,20.5Q51,18.5 54.5,20.5V30H47.5Z"/><path d="M49.5,21V29M52.5,21V29"/><ellipse cx="51" cy="31" rx="6" ry="3.5"/><path d="M45,31V34Q51,38 57,34V31"/><path d="M40,31L36.5,40Q38,44 47,45L55,43Q58,41 57,36"/><path d="M36.5,40V42Q40,46 47,47"/><path d="M48,44V74Q51,77 54,74V44"/><path d="M50,46V73"/></g>
<g transform="translate(787.00,531.75)" ><path d="M47.5,20.5Q51,18.5 54.5,20.5V30H47.5Z"/><path d="M49.5,21V29M52.5,21V29"/><ellipse cx="51" cy="31" rx="6" ry="3.5"/><path d="M45,31V34Q51,38 57,34V31"/><path d="M40,31L36.5,40Q38,44 47,45L55,43Q58,41 57,36"/><path d="M36.5,40V42Q40,46 47,47"/><path d="M48,44V74Q51,77 54,74V44"/><path d="M50,46V73"/></g>
</g>
<g fill="none" stroke="#3a3a3a" stroke-width="0.85" stroke-linejoin="round" stroke-linecap="round">
<path d="M320.4,235.8L330,231.25L335.8,234.2L326.7,238.75Z"/><path d="M320.4,235.8V250L331.7,256.7L340,272.5L357.5,281.7L361.7,279.2L366.7,277.5L376.7,283.3L411.7,269.2"/><path d="M335.8,234.2L341.25,234.2L341.7,227.5L347.5,224.5"/><ellipse cx="326.25" cy="244.2" rx="2.9" ry="4.2" transform="rotate(-20 326.25 244.2)"/><ellipse cx="330.4" cy="252.5" rx="2" ry="2.9" transform="rotate(-20 330.4 252.5)"/><ellipse cx="348.3" cy="256.7" rx="11.5" ry="13.75" transform="rotate(-25 348.3 256.7)"/><path d="M332.5,241.7Q337,235.5 345,236.7Q357,240 363,255Q367,266 363.3,275.5"/><path d="M334.5,244.5Q340,238.5 348,240Q360,245 363,262"/><ellipse cx="352.9" cy="265.8" rx="2.5" ry="1.3" transform="rotate(-20 352.9 265.8)"/><ellipse cx="353.75" cy="224.6" rx="6.5" ry="3.5"/><ellipse cx="353.75" cy="224.6" rx="3" ry="1.5"/><path d="M347.25,224.6V235.8M360.25,224.6V235.8"/><path d="M361.7,212.5L371.7,207.9L375,210.8L367.5,215ZM361.7,212.5V235.8M367.5,215V222M375,210.8V218"/><path d="M375,210.8L387.5,206.7Q391,205.8 393.3,206.25L400,209.2L404.2,213.3L410,221.7L417.5,233.3L424.2,238.3"/><path d="M376,214L388,210Q394,209.5 398.3,211.7L402,215"/><path d="M384.2,214.2V222.5H389.2V214.2M389.2,215V224.2H396.7V215.4"/><ellipse cx="386.7" cy="214.2" rx="2.5" ry="1.3"/><ellipse cx="392.9" cy="215.4" rx="3.75" ry="2"/><path d="M369.2,222.5L381.7,218.3M369.2,227.5L384.2,221.7M380.8,227.5L393.3,238.3L401.7,235L396.7,225M410,221.7L415,241.7M367.5,233L380,229"/><path d="M376.7,240.8L383.3,239.2L414.2,240.8L415,243.3L397.5,250.8L391.7,251.7L384.2,249.2L376.7,243.3ZM390.8,251.7V255H397.5V250.8M380,241.5L382,248"/><path d="M361.7,279.2L365,262L376,258L414,240M380,270L414.2,254.2M382.5,273.3L415,258.5M376.7,283.3L376.7,267M415,243.3V269"/><ellipse cx="370.5" cy="270" rx="2.5" ry="3.5" transform="rotate(-20 370.5 270)"/><path d="M392.5,276L403,271L404.5,275.5L394,280.5Z"/><path d="M394,277.8L402.5,273.8M394.8,279.2L403,275.5M396,276.5L397,279.5M399,275L400,278" fill="none"/><ellipse cx="425" cy="243.75" rx="4.2" ry="2.6"/><ellipse cx="425" cy="243.75" rx="3" ry="1.8"/><path d="M420.8,244V262Q419,267 412,265.5M429.2,244V265Q428,273 418,273.5Q412,273 409.5,268"/><path d="M372.5,283.3V295Q375,297.5 377.9,295V283.3M372.5,292.5H377.9"/><ellipse cx="320.5" cy="272.6" rx="13.4" ry="16.3" transform="rotate(-25 320.5 272.6)"/><path d="M329,258Q337,266 334,282Q331,289 325,289.5"/><ellipse cx="320" cy="264.2" rx="1.5" ry="1.9"/><ellipse cx="319.2" cy="272.5" rx="2" ry="2.5"/><ellipse cx="320" cy="282" rx="1.5" ry="1.9"/><path d="M302,289.5L305,287.5L308.5,288.5L309,292L306,294.5L302.5,293.5Z"/><path d="M307,288L312,285.5L313.5,288.5L309,291M304,290L307,292"/><ellipse cx="377" cy="310" rx="5.8" ry="3.3"/><ellipse cx="377" cy="309.5" rx="3" ry="1.6"/><path d="M371.2,310V312Q377,315.5 382.8,312V310M373,313V318Q377,320 381,318V313M373.5,315.5H380.5"/>
</g>
<g fill="none" stroke="#3a3a3a" stroke-width="0.85" stroke-linejoin="round" stroke-linecap="round">
<path d="M660.3,89.3Q663,87.3 671.7,90L695,93L699,94.3L707.7,93.3Q709,97.3 707.7,99.3L692.3,102L683.7,101.3Q668.3,98.7 661.7,96Q659.7,93.3 660.3,89.3Z"/><ellipse cx="666" cy="92.3" rx="5" ry="3.3" transform="rotate(15 666 92.3)"/><ellipse cx="666.7" cy="92.3" rx="2.7" ry="1.7" transform="rotate(15 666.7 92.3)"/><path d="M662,94.5Q666,97 670,95.5" fill="none"/><ellipse cx="690.3" cy="96.3" rx="4" ry="2.7"/><path d="M683,101.3V106.7Q690.3,110.7 697.7,106.7V101.3"/><path d="M699,101.3V113Q703,116 707,113V100M700.5,102V112"/><path d="M686.3,109.3V155Q690.5,157.5 694.7,155V109.3M686.3,146.5Q690.5,144 694.7,146.5"/><path d="M688.3,122.7V145M692.3,122.7V145M688.3,124L692.3,129M688.3,139L692.3,144"/>
<path d="M185,72L191,69L195,73L195,79L189,81L184,78Z"/><ellipse cx="189.5" cy="72.8" rx="3" ry="1.8"/><path d="M190,75L193,80M187,76L190,81"/><ellipse cx="182" cy="84.5" rx="6" ry="4.2" transform="rotate(-15 182 84.5)"/><ellipse cx="182" cy="84.5" rx="3.2" ry="2.2" transform="rotate(-15 182 84.5)"/><path d="M186,80.5L204,83L213.5,82Q214.5,86 213.5,90L205,92L196,92Q185,91 178,88.5"/><ellipse cx="202" cy="86" rx="3.5" ry="2.2"/><path d="M188.5,92V97Q196,101.5 203.5,97V92"/><path d="M205.5,92V99.5Q209,101.5 213,99.5V90"/><path d="M192,100V146.5Q196.3,149 200.6,146.5V100M192,139.5Q196.3,137 200.6,139.5"/><path d="M194,112V138M197.5,112V138M194,114L197.5,119M194,132L197.5,137"/>
<ellipse cx="838.6" cy="48.5" rx="5.8" ry="2.9"/><ellipse cx="838.6" cy="48.8" rx="4.6" ry="2.0"/><path d="M832.8,48.5V89.2Q838.9,94.5 845.7,89.2V49M843.5,50.5V90"/><path d="M833.5,46.2L870.7,23.1L873.3,23.1L882.6,28.3L845.7,49.4"/><path d="M882.6,28.3V34.7L847,60.4M847,54L881.6,34M847,49.4V60"/><path d="M843,44L857,36.5L858,38.5L844,46Z" fill="#444"/><path d="M857,35L860,37M864,32.5L865,33.5"/><path d="M832.8,72.5L836.5,72.5L836.5,79L832.8,80"/>
<ellipse cx="582" cy="279" rx="5.7" ry="3.6"/><ellipse cx="582" cy="278.5" rx="3" ry="1.7"/><path d="M576.3,279V281Q582,284.5 587.7,281V279"/><path d="M578,282.5V287Q582,289 586,287V282.5M578,285H586"/>
<path d="M694.5,439V458.5M706.5,439V458.5"/><ellipse cx="700.5" cy="438.5" rx="6" ry="2.3"/><path d="M694.5,439.0Q700.5,444.0 706.5,441.0"/><path d="M694.5,443.5Q700.5,448.5 706.5,445.5"/><path d="M694.5,448.0Q700.5,453.0 706.5,450.0"/><path d="M694.5,452.5Q700.5,457.5 706.5,454.5"/><ellipse cx="700.5" cy="458.5" rx="6" ry="2.3"/><path d="M697,441L704,444M697,446L704,449M697,451L704,454"/>
<g transform="translate(525,846.8) rotate(27.8)"><ellipse cx="-17.5" cy="0" rx="1.8" ry="4.6"/><path d="M-17.5,-4.6H-7M-17.5,4.6H-7M-14.5,-4.8V4.8M-11.5,-4.8V4.8M-8.5,-5V5"/><path d="M-7,-6.5H3.5M-7,6.5H3.5M-7,-6.5V6.5M3.5,-6.5V6.5M-7,-2.2H3.5M-7,2.2H3.5"/><path d="M3.5,-5.2H17.5M3.5,5.2H17.5M7,-5.2V5.2"/><ellipse cx="17.5" cy="0" rx="2.3" ry="5.2"/><ellipse cx="17.5" cy="0" rx="1.3" ry="3.2"/></g>
<ellipse cx="535.4" cy="900.5" rx="6.5" ry="2.6"/><ellipse cx="535.4" cy="900.5" rx="4.5" ry="1.6"/><path d="M528.9,900.5V923Q532,929.5 537,929Q542,927.5 541.9,923V900.5M528.9,910L541.9,911M528.9,916L541.9,917M535,911V916"/><g transform="translate(521,918.5) rotate(33)"><ellipse cx="-10" cy="0" rx="1.6" ry="3.6"/><path d="M-10,-3.6H10M-10,3.6H10M-7,-3.8V3.8M-4,-3.8V3.8M-1,-3.8V3.8M2,-3.8V3.8"/></g>
<g transform="translate(149.3,262.5) rotate(-3)"><ellipse cx="0" cy="0" rx="3.6" ry="3.2"/><path d="M-2.5,-1.2L2.2,1.6"/><path d="M1.8,-2.8L13.5,-8.8M3.2,1.2L14.8,-5M13.5,-8.8L14.8,-5"/><path d="M6,-5.2L7.2,-2M8.5,-6.4L9.7,-3.2M11,-7.6L12.2,-4.4"/></g>
<g transform="translate(176.85,254.15) rotate(-28)"><path d="M-7.5,-3.2L6.5,-3.2M-7.5,3.2L6.5,3.2"/><ellipse cx="-7.5" cy="0" rx="1.5" ry="3.2"/><ellipse cx="6.5" cy="0" rx="1.8" ry="3.2"/><path d="M-5.5,-3.2L-3.5,3.2M-3,-3.2L-1,3.2M-0.5,-3.2L1.5,3.2M2,-3.2L4,3.2M4.5,-3.2L6.5,3.2" fill="none"/></g>
<g transform="translate(145,865.5) rotate(-3)"><ellipse cx="0" cy="0" rx="3.6" ry="3.2"/><path d="M-2.5,-1.2L2.2,1.6"/><path d="M1.8,-2.8L13.5,-8.8M3.2,1.2L14.8,-5M13.5,-8.8L14.8,-5"/><path d="M6,-5.2L7.2,-2M8.5,-6.4L9.7,-3.2M11,-7.6L12.2,-4.4"/></g>
<g transform="translate(174.3,849.4) rotate(-28)"><path d="M-7.5,-3.2L6.5,-3.2M-7.5,3.2L6.5,3.2"/><ellipse cx="-7.5" cy="0" rx="1.5" ry="3.2"/><ellipse cx="6.5" cy="0" rx="1.8" ry="3.2"/><path d="M-5.5,-3.2L-3.5,3.2M-3,-3.2L-1,3.2M-0.5,-3.2L1.5,3.2M2,-3.2L4,3.2M4.5,-3.2L6.5,3.2" fill="none"/></g>
<g transform="translate(641,865.5) rotate(-3)"><ellipse cx="0" cy="0" rx="3.6" ry="3.2"/><path d="M-2.5,-1.2L2.2,1.6"/><path d="M1.8,-2.8L13.5,-8.8M3.2,1.2L14.8,-5M13.5,-8.8L14.8,-5"/><path d="M6,-5.2L7.2,-2M8.5,-6.4L9.7,-3.2M11,-7.6L12.2,-4.4"/></g>
<g transform="translate(671,849.1) rotate(-28)"><path d="M-7.5,-3.2L6.5,-3.2M-7.5,3.2L6.5,3.2"/><ellipse cx="-7.5" cy="0" rx="1.5" ry="3.2"/><ellipse cx="6.5" cy="0" rx="1.8" ry="3.2"/><path d="M-5.5,-3.2L-3.5,3.2M-3,-3.2L-1,3.2M-0.5,-3.2L1.5,3.2M2,-3.2L4,3.2M4.5,-3.2L6.5,3.2" fill="none"/></g>
<g transform="translate(354.00,660.00)" ><path d="M0.2,13Q7.7,4.3 23.5,0.3L51.3,0.3Q55.2,1.9 56.8,10.6V32.8"/><path d="M0.2,13V33L2.1,39.1"/><ellipse cx="29.5" cy="18.1" rx="25.4" ry="15.1"/><ellipse cx="29.6" cy="22.1" rx="24.3" ry="10.7"/><path d="M4.1,35.6L26.7,35.6L55.2,34M5.3,43.5L37,43.5Q48,42 55.2,35.2M26.3,35.6V43.5M4.1,35.6L2.5,39L5.3,43.5"/><path d="M2.1,39.1V53.4Q7.7,69.2 27.5,70.8Q49.7,69.2 55.6,51.8V32.8"/><path d="M6.1,59.7Q20,69.2 27.5,69.2Q40,69 52.1,59.7"/><ellipse cx="49.7" cy="3.5" rx="2.5" ry="1.5"/><ellipse cx="7.7" cy="32" rx="2.2" ry="1.3"/></g>
<g transform="translate(670.00,619.00) scale(1.01)" ><path d="M0.2,13Q7.7,4.3 23.5,0.3L51.3,0.3Q55.2,1.9 56.8,10.6V32.8"/><path d="M0.2,13V33L2.1,39.1"/><ellipse cx="29.5" cy="18.1" rx="25.4" ry="15.1"/><ellipse cx="29.6" cy="22.1" rx="24.3" ry="10.7"/><path d="M4.1,35.6L26.7,35.6L55.2,34M5.3,43.5L37,43.5Q48,42 55.2,35.2M26.3,35.6V43.5M4.1,35.6L2.5,39L5.3,43.5"/><path d="M2.1,39.1V53.4Q7.7,69.2 27.5,70.8Q49.7,69.2 55.6,51.8V32.8"/><path d="M6.1,59.7Q20,69.2 27.5,69.2Q40,69 52.1,59.7"/><ellipse cx="49.7" cy="3.5" rx="2.5" ry="1.5"/><ellipse cx="7.7" cy="32" rx="2.2" ry="1.3"/></g>
<g transform="translate(335.50,709.50)" ><path d="M1.5,2Q4.6,-1 7.7,2V15H1.5Z"/><path d="M1.5,4.5L7.7,3.5M1.5,7L7.7,6M1.5,9.5L7.7,8.5M1.5,12L7.7,11"/><path d="M0,15H9.2V20Q4.6,23 0,20ZM0,17.5H9.2M4.6,15V22"/></g>
<g transform="translate(651.50,660.00)" ><path d="M1.5,2Q4.6,-1 7.7,2V15H1.5Z"/><path d="M1.5,4.5L7.7,3.5M1.5,7L7.7,6M1.5,9.5L7.7,8.5M1.5,12L7.7,11"/><path d="M0,15H9.2V20Q4.6,23 0,20ZM0,17.5H9.2M4.6,15V22"/></g>
</g>
<g fill="none" stroke="#3a3a3a" stroke-width="0.85" stroke-linejoin="round" stroke-linecap="round">
<g transform="translate(140.4,528.3) rotate(-39.73)"><path d="M0,-1.1L156.2,-1.1M0,1.1L156.2,1.1M15.6,-2.8L145.2,-2.8M15.6,-2.8L18.1,1.1M145.2,-2.8L148.2,-1.1"/><rect x="67.9" y="-3.2" width="11" height="6.4" fill="#333"/><path d="M156.2,-1.1Q161.2,-3 162.2,1.5Q162.2,6 158.2,6.5Q155.2,6 156.7,3.5M156.2,1.1Q159.7,0 160.0,2.5"/></g>
<path d="M140.6,527Q137.3,529 137.8,532V538.5H141V532.5Q141,531 142.2,529.8"/>
<g transform="translate(196.0,1170.0) rotate(-39.24)"><path d="M0,-1.1L154.9,-1.1M0,1.1L154.9,1.1M15.5,-2.8L144.1,-2.8M15.5,-2.8L18.0,1.1M144.1,-2.8L147.1,-1.1"/><rect x="96.8" y="-3.2" width="11" height="6.4" fill="#333"/><path d="M154.9,-1.1Q159.9,-3 160.9,1.5Q160.9,6 156.9,6.5Q153.9,6 155.4,3.5M154.9,1.1Q158.4,0 158.7,2.5"/><path d="M0,-1.1Q-5,-3 -6,1.5Q-6,6 -2,6.5Q1,6 -0.5,3.5M0,1.1Q-3.5,0 -3.8,2.5"/></g>
<g transform="translate(695.0,1164.0) rotate(-39.61)"><path d="M0,-1.1L150.6,-1.1M0,1.1L150.6,1.1M15.1,-2.8L140.0,-2.8M15.1,-2.8L17.6,1.1M140.0,-2.8L143.0,-1.1"/><rect x="87.9" y="-3.2" width="11" height="6.4" fill="#333"/></g>
<path d="M810.5,1067Q814.5,1063.5 816.8,1066.5V1075.5H814V1068.5Q813,1068 811.8,1069.2"/>
<path d="M695.2,1162.8Q692.6,1165 693,1168V1177.5H695.8V1168.5Q696,1167 697,1165.5"/>
</g>
</svg></body></html>
